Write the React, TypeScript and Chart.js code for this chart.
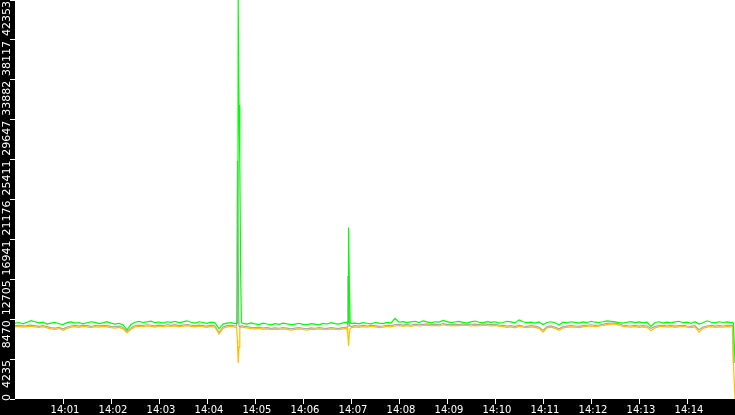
import { useEffect, useRef } from 'react';
import { Chart, registerables } from 'chart.js';

Chart.register(...registerables);

// ---- data ----
const startTime = '14:00:00';
const sampleStepSeconds = 5;
const xMaxSeconds = 900;
const xTickLabels = ['14:01', '14:02', '14:03', '14:04', '14:05', '14:06', '14:07', '14:08', '14:09', '14:10', '14:11', '14:12', '14:13', '14:14'];
const yTickValues = [0, 4235, 8470, 12705, 16941, 21176, 25411, 29647, 33882, 38117, 42353];
const yMax = 42353;

const greenBase = [
  8050, 8120, 7980, 8150, 8320, 8200, 8080, 8150, 7950, 8060, 8130, 7990, 7900, 8100, 8180, 8050, 8120, 7970, 8090, 8200,
  8140, 8000, 8080, 8210, 8060, 7950, 8020, 7880, 7350, 7900, 8150, 8230, 8120, 8180, 8260, 8100, 8170, 8050, 8200, 8130,
  8250, 8090, 8180, 8300, 8150, 8060, 8200, 8120, 8030, 8150, 8080, 7450, 7950, 8050, 8100, 8000, 8050, 8020, 7950, 8080,
  7980, 7900, 8050, 7960, 7880, 8000, 7920, 8060, 7970, 7890, 7950, 8040, 7930, 7870, 8000, 7950, 7880, 8020, 7960, 8100,
  8000, 7950, 8080, 8150, 8020, 8060, 7980, 8100, 8040, 7970, 8120, 8050, 8000, 8130, 8060, 8550, 8150, 8220, 8100, 8180,
  8250, 8120, 8300, 8180, 8080, 8200, 8150, 8350, 8220, 8100, 8170, 8240, 8130, 8060, 8190, 8280, 8150, 8080, 8220, 8140,
  8200, 8050, 8120, 8250, 8180, 8080, 8400, 8200, 8100, 8150, 8050, 8180, 7900, 8120, 8200, 8100, 7850, 8150, 8080, 8200,
  8130, 8060, 8180, 8100, 8250, 8150, 8120, 8200, 8300, 8250, 8180, 8100, 8050, 8150, 8220, 8100, 8180, 8080, 8150, 7700,
  8120, 8200, 8050, 8150, 8080, 8180, 8250, 8100, 8150, 8020, 8200, 7950, 8100, 8300, 8150, 8080, 8200, 8120, 8180, 8100,
];

const grayBase = [
  7780, 7830, 7760, 7800, 7850, 7790, 7720, 7800, 7690, 7580, 7530, 7600, 7450, 7640, 7750, 7810, 7740, 7820, 7790, 7700,
  7800, 7760, 7830, 7780, 7710, 7650, 7730, 7590, 7180, 7540, 7780, 7850, 7800, 7880, 7830, 7770, 7850, 7800, 7880, 7820,
  7890, 7800, 7850, 7900, 7830, 7780, 7850, 7800, 7730, 7830, 7750, 7050, 7640, 7780, 7830, 7750, 7780, 7730, 7680, 7610,
  7580, 7630, 7540, 7580, 7490, 7550, 7510, 7580, 7530, 7460, 7530, 7580, 7510, 7440, 7550, 7510, 7580, 7530, 7490, 7580,
  7530, 7490, 7580, 7630, 7680, 7780, 7730, 7810, 7750, 7830, 7780, 7710, 7750, 7830, 7780, 7900, 7930, 7850, 7910, 7830,
  7950, 7880, 7930, 7980, 7910, 7950, 7880, 8010, 7930, 7890, 7950, 7910, 7980, 7930, 7880, 7950, 7910, 7980, 7930, 7890,
  7930, 7850, 7810, 7730, 7780, 7680, 7830, 7750, 7710, 7780, 7730, 7630, 7300, 7680, 7750, 7630, 7450, 7680, 7730, 7780,
  7750, 7710, 7780, 7830, 7880, 7810, 7850, 7930, 8020, 8060, 8060, 7980, 7830, 7780, 7750, 7810, 7730, 7780, 7750, 7500,
  7680, 7780, 7830, 7750, 7810, 7730, 7780, 7830, 7750, 7710, 7780, 7350, 7630, 7750, 7810, 7730, 7780, 7750, 7810, 7780,
];

const orangeBase = [
  7650, 7700, 7620, 7680, 7720, 7650, 7600, 7680, 7550, 7450, 7400, 7480, 7300, 7500, 7620, 7680, 7600, 7700, 7650, 7580,
  7680, 7620, 7700, 7650, 7580, 7520, 7600, 7450, 7050, 7400, 7650, 7720, 7680, 7750, 7700, 7640, 7720, 7680, 7750, 7700,
  7760, 7680, 7720, 7780, 7700, 7650, 7720, 7680, 7600, 7700, 7620, 6900, 7500, 7650, 7700, 7620, 7650, 7600, 7550, 7480,
  7450, 7500, 7400, 7450, 7350, 7420, 7380, 7450, 7400, 7320, 7400, 7450, 7380, 7300, 7420, 7380, 7450, 7400, 7350, 7450,
  7400, 7350, 7450, 7500, 7550, 7650, 7600, 7680, 7620, 7700, 7650, 7580, 7620, 7700, 7650, 7750, 7800, 7720, 7780, 7700,
  7820, 7750, 7800, 7850, 7780, 7820, 7750, 7880, 7800, 7760, 7820, 7780, 7850, 7800, 7750, 7820, 7780, 7850, 7800, 7760,
  7800, 7720, 7680, 7600, 7650, 7550, 7700, 7620, 7580, 7650, 7600, 7500, 7100, 7550, 7620, 7500, 7300, 7550, 7600, 7650,
  7620, 7580, 7650, 7700, 7750, 7680, 7720, 7800, 7900, 7950, 7950, 7850, 7700, 7650, 7620, 7680, 7600, 7650, 7620, 7250,
  7550, 7650, 7700, 7620, 7680, 7600, 7650, 7700, 7620, 7580, 7650, 7100, 7500, 7620, 7680, 7600, 7650, 7620, 7680, 7650,
];

// finer samples (seconds from start) around the spikes and the end
const spike1Times = [277, 278, 278.5, 279, 280, 281, 282, 283];
const spike1Green = [8050, 8050, 8100, 42353, 31200, 25000, 13800, 8100];
const spike1Gray = [7750, 25300, 19000, 13800, 7700, 7650, 7750, 7780];
const spike1Orange = [7600, 6300, 5000, 3800, 5500, 7500, 7600, 7650];

const spike2Times = [416, 416.5, 417, 418, 419];
const spike2Green = [8050, 8100, 18200, 12000, 8050];
const spike2Gray = [12981, 12981, 12981, 7750, 7780];
const spike2Orange = [6800, 6200, 5640, 7000, 7500];

const endTimes = [897, 898, 900];
const endGreen = [8100, 8050, 3900];
const endGray = [7780, 3900, 3900];
const endOrange = [7650, 3900, 0];

// ---- helpers ----
const toSec = (s: string) => {
  const p = s.split(':').map(Number);
  return p[0] * 3600 + p[1] * 60 + (p[2] || 0);
};
const startSec = toSec(startTime);
const xTickSeconds = xTickLabels.map((l) => toSec(l) - startSec);

type Pt = { x: number; y: number };
const events = [
  { times: spike1Times, green: spike1Green, gray: spike1Gray, orange: spike1Orange },
  { times: spike2Times, green: spike2Green, gray: spike2Gray, orange: spike2Orange },
  { times: endTimes, green: endGreen, gray: endGray, orange: endOrange },
];

function buildSeries(base: number[], key: 'green' | 'gray' | 'orange'): Pt[] {
  const pts: Pt[] = [];
  base.forEach((v, i) => {
    const t = i * sampleStepSeconds;
    const inEvent = events.some((e) => t >= e.times[0] && t <= e.times[e.times.length - 1]);
    if (!inEvent) pts.push({ x: t, y: v });
  });
  events.forEach((e) => e.times.forEach((t, j) => pts.push({ x: t, y: e[key][j] })));
  pts.sort((a, b) => a.x - b.x);
  return pts;
}

const bgPlugin = {
  id: 'bgPlugin',
  beforeDraw(chart: any) {
    const { ctx, chartArea: a, width, height } = chart;
    ctx.save();
    ctx.fillStyle = '#000';
    ctx.fillRect(0, 0, width, height);
    ctx.fillStyle = '#fff';
    ctx.fillRect(a.left, a.top, a.right - a.left, a.bottom - a.top);
    ctx.restore();
  },
};

// rotated y labels: each starts just below its tick, clamped to stay above the x-axis band
const yLabelPlugin = {
  id: 'yLabelPlugin',
  afterDraw(chart: any) {
    const s = chart.scales.y;
    const ctx = chart.ctx;
    const limit = chart.chartArea.bottom + 2;
    ctx.save();
    ctx.fillStyle = '#fff';
    ctx.font = '11px "DejaVu Sans"';
    ctx.textBaseline = 'middle';
    ctx.textAlign = 'right';
    s.ticks.forEach((t: any) => {
      const label = String(t.value);
      const w = ctx.measureText(label).width;
      let y = s.getPixelForValue(t.value) + 1;
      if (y + w > limit) y = limit - w;
      ctx.save();
      ctx.translate(7, y);
      ctx.rotate(-Math.PI / 2);
      ctx.fillText(label, 0, 0);
      ctx.restore();
    });
    ctx.restore();
  },
};

export default function App() {
  const ref = useRef<HTMLCanvasElement>(null);
  useEffect(() => {
    document.body.style.margin = '0';
    const chart = new Chart(ref.current!, {
      type: 'line',
      data: {
        datasets: [
          { data: buildSeries(greenBase, 'green'), borderColor: '#00ff00' },
          { data: buildSeries(orangeBase, 'orange'), borderColor: '#ffc000' },
          { data: buildSeries(grayBase, 'gray'), borderColor: '#a8a8a8' },
        ].map((d) => ({ ...d, borderWidth: 1.2, pointRadius: 0, tension: 0, fill: false })),
      },
      options: {
        animation: false,
        responsive: false,
        devicePixelRatio: 1,
        layout: { padding: 0 },
        plugins: { legend: { display: false }, tooltip: { enabled: false } },
        scales: {
          x: {
            type: 'linear',
            min: 0,
            max: xMaxSeconds,
            afterBuildTicks: (s: any) => {
              s.ticks = xTickSeconds.map((v) => ({ value: v }));
            },
            afterFit: (s: any) => {
              s.height = 16;
              s.paddingLeft = 0;
              s.paddingRight = 0;
            },
            border: { display: false },
            grid: { drawOnChartArea: false, drawTicks: true, tickLength: 5, color: '#fff' },
            ticks: {
              autoSkip: false,
              minRotation: 0,
              maxRotation: 0,
              padding: 0,
              labelOffset: 2,
              color: '#fff',
              font: { family: 'DejaVu Sans', size: 10 },
              callback: (v: any) => {
                const i = xTickSeconds.indexOf(Number(v));
                return i >= 0 ? xTickLabels[i] : '';
              },
            },
          },
          y: {
            type: 'linear',
            min: 0,
            max: yMax,
            afterBuildTicks: (s: any) => {
              s.ticks = yTickValues.map((v) => ({ value: v }));
            },
            afterFit: (s: any) => {
              s.width = 15;
              s.paddingTop = 0;
              s.paddingBottom = 0;
            },
            border: { display: false },
            grid: { drawOnChartArea: false, drawTicks: true, tickLength: 5, color: '#fff' },
            ticks: { display: false },
          },
        },
      },
      plugins: [bgPlugin, yLabelPlugin],
    } as any);
    return () => chart.destroy();
  }, []);
  return (
    <div style={{ position: 'fixed', left: 0, top: 0, width: 735, height: 415 }}>
      <canvas ref={ref} width={735} height={415} style={{ display: 'block', width: 735, height: 415 }} />
    </div>
  );
}
